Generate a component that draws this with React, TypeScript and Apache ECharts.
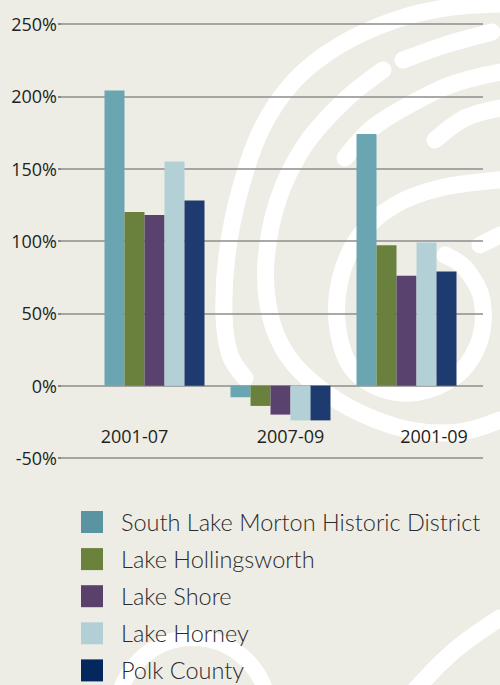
import React, { useEffect, useRef } from "react";
import * as echarts from "echarts";

const categories = ["2001-07", "2007-09", "2001-09"];
const seriesNames = [
  "South Lake Morton Historic District",
  "Lake Hollingsworth",
  "Lake Shore",
  "Lake Horney",
  "Polk County",
];
const southLakeMorton = [204, -8, 174];
const lakeHollingsworth = [120, -14, 97];
const lakeShore = [118, -20, 76];
const lakeHorney = [155, -24, 99];
const polkCounty = [128, -24, 79];
const yMin = -50;
const yMax = 250;
const yStep = 50;

const barColors = ["#6aa5b2", "#6a813d", "#59426d", "#b3d0d6", "#1e3b70"];
const legendColors = ["#5994a0", "#6a823c", "#5a416b", "#b3cfd6", "#04275d"];
const labelShift = [-20, 10, 27.5];

const swirls: number[][][] = [
  [[500, 4], [445, 8], [395, 20], [340, 45], [295, 80], [262, 128], [240, 190], [227, 255], [224, 315], [230, 355], [245, 378]],
  [[383, 70], [345, 100], [305, 145], [278, 200], [266, 262], [270, 315], [287, 355], [318, 387], [360, 413], [410, 430], [460, 432], [500, 420]],
  [[403, 60], [445, 45], [492, 32]],
  [[500, 72], [450, 85], [400, 110], [370, 130], [345, 158]],
  [[500, 108], [465, 118], [435, 140]],
  [[500, 180], [440, 188], [395, 205], [360, 235], [340, 280], [338, 330], [355, 372], [400, 393], [450, 380], [478, 345], [482, 300], [465, 268], [445, 255]],
  [[500, 235], [480, 245]],
  [[415, 690], [455, 650], [500, 618]],
];

export default function App() {
  const ref = useRef<HTMLDivElement>(null);
  useEffect(() => {
    if (!ref.current) return;
    const chart = echarts.init(ref.current, null, { renderer: "svg" });
    const data = [southLakeMorton, lakeHollingsworth, lakeShore, lakeHorney, polkCounty];
    const graphics: any[] = swirls.map((pts) => ({
      type: "polyline",
      z: -10,
      silent: true,
      shape: { points: pts, smooth: 0.35 },
      style: { stroke: "#ffffff", lineWidth: 17, lineCap: "round", lineJoin: "round", fill: null },
    }));
    graphics.push({
      type: "arc",
      z: -10,
      silent: true,
      shape: { cx: 193, cy: 714, r: 76, startAngle: Math.PI, endAngle: 2 * Math.PI },
      style: { stroke: "#ffffff", lineWidth: 16, fill: null },
    });
    const labelRich = (pad: number[]) => ({
      padding: pad,
      fontFamily: "Open Sans",
      fontSize: 18,
      color: "#231f20",
    });
    const option: any = {
      animation: false,
      backgroundColor: "#edede6",
      graphic: graphics,
      grid: [
        { left: 61, right: 17, top: 24, bottom: 227, containLabel: false },
        { left: 91.5, right: 30.5, top: 24, bottom: 227, containLabel: false },
      ],
      legend: {
        orient: "vertical",
        left: 81,
        top: 510,
        padding: 0,
        height: 210,
        itemWidth: 22,
        itemHeight: 22,
        itemGap: 13.1,
        icon: "rect",
        textStyle: {
          fontFamily: "Lato",
          fontWeight: 300,
          fontSize: 23.5,
          color: "#2b2b2b",
          lineHeight: 22,
          padding: [0, 0, 0, 13],
        },
        data: seriesNames.map((n, i) => ({ name: n, itemStyle: { color: legendColors[i] } })),
      },
      xAxis: [
        { type: "value", gridIndex: 0, show: false, min: 0, max: 1 },
        {
          type: "category",
          gridIndex: 1,
          data: categories,
          axisLine: { show: false },
          axisTick: { show: false },
          axisLabel: {
            interval: 0,
            margin: -31,
            fontFamily: "Open Sans",
            fontSize: 18,
            color: "#231f20",
            formatter: (v: string, i: number) => `{c${i}|${v}}`,
            rich: {
              c0: labelRich([0, -2 * labelShift[0], 0, 0]),
              c1: labelRich([0, 0, 0, 2 * labelShift[1]]),
              c2: labelRich([0, 0, 0, 2 * labelShift[2]]),
            },
          },
        },
      ],
      yAxis: [
        {
          type: "value",
          gridIndex: 0,
          min: yMin,
          max: yMax,
          interval: yStep,
          axisLine: { show: false },
          axisTick: { show: true, length: 3, lineStyle: { color: "#8a8a8a", width: 2 } },
          axisLabel: {
            margin: 4,
            fontFamily: "Open Sans",
            fontSize: 18,
            color: "#231f20",
            formatter: (v: number) => `${v}%`,
          },
          splitLine: { show: true, lineStyle: { color: "#8c8c8c", width: 1.6 } },
        },
        {
          type: "value",
          gridIndex: 1,
          min: yMin,
          max: yMax,
          interval: yStep,
          show: false,
          splitLine: { show: false },
        },
      ],
      series: data.map((d, i) => ({
        name: seriesNames[i],
        type: "bar",
        xAxisIndex: 1,
        yAxisIndex: 1,
        data: d,
        barWidth: 20,
        barGap: "0%",
        itemStyle: { color: barColors[i] },
      })),
    };
    chart.setOption(option);
    return () => chart.dispose();
  }, []);
  return (
    <div
      ref={ref}
      style={{ position: "absolute", left: 0, top: 0, width: 500, height: 685 }}
    />
  );
}
